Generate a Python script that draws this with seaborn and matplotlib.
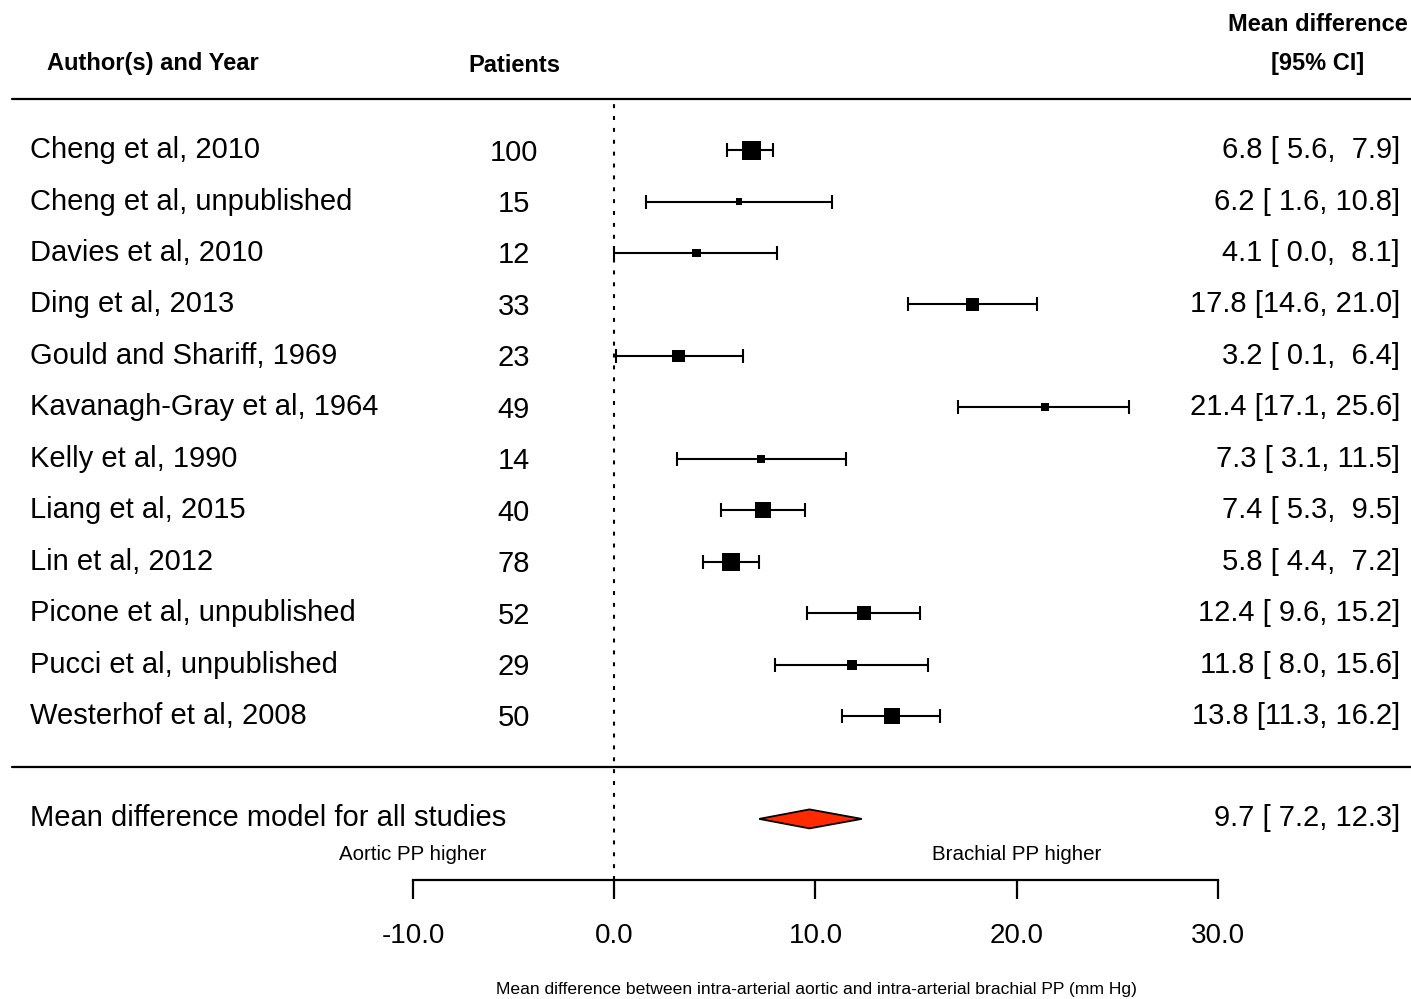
import numpy as np
import pandas as pd
import matplotlib
matplotlib.use("Agg")
import matplotlib.pyplot as plt
import matplotlib.transforms as mtransforms
import seaborn as sns

# ---------------- data ----------------
studies = ["Cheng et al, 2010", "Cheng et al, unpublished", "Davies et al, 2010",
           "Ding et al, 2013", "Gould and Shariff, 1969", "Kavanagh-Gray et al, 1964",
           "Kelly et al, 1990", "Liang et al, 2015", "Lin et al, 2012",
           "Picone et al, unpublished", "Pucci et al, unpublished", "Westerhof et al, 2008"]
patients = [100, 15, 12, 33, 23, 49, 14, 40, 78, 52, 29, 50]
estimates = [6.8, 6.2, 4.1, 17.8, 3.2, 21.4, 7.3, 7.4, 5.8, 12.4, 11.8, 13.8]
ci_lower = [5.6, 1.6, 0.0, 14.6, 0.1, 17.1, 3.1, 5.3, 4.4, 9.6, 8.0, 11.3]
ci_upper = [7.9, 10.8, 8.1, 21.0, 6.4, 25.6, 11.5, 9.5, 7.2, 15.2, 15.6, 16.2]
weights = [9.32, 7.42, 7.80, 8.35, 8.37, 7.63, 7.65, 8.94, 9.16, 8.58, 7.97, 8.81]  # study weights (%)
summary_label = "Mean difference model for all studies"
summary_est, summary_lo, summary_hi = 9.7, 7.2, 12.3
xticks = [-10, 0, 10, 20, 30]
left_note = "Aortic PP higher"
right_note = "Brachial PP higher"
xlabel = "Mean difference between intra-arterial aortic and intra-arterial brachial PP (mm Hg)"

# ---------------- style ----------------
sns.set_style("white")
plt.rcParams["font.family"] = ["Liberation Sans", "DejaVu Sans"]
plt.rcParams["text.color"] = "black"
plt.rcParams["axes.labelcolor"] = "black"
plt.rcParams["xtick.color"] = "black"

W, H = 1411, 999
fig = plt.figure(figsize=(W / 100, H / 100), dpi=100)
ax = fig.add_axes([0, 0, 1, 1])

ppu = 805 / 40.0            # pixels per x unit
row_h = 51.45               # pixels per row
ax.set_xlim(-10 - 413 / ppu, 30 + (W - 1218) / ppu)
ax.set_ylim(1 - (H - 716) / row_h, 1 + 716 / row_h)

k = len(studies)
df = pd.DataFrame({"study": studies, "n": patients, "est": estimates,
                   "lo": ci_lower, "hi": ci_upper, "w": weights})
df["row"] = np.arange(k, 0, -1)
summary_row = -1
axis_row = -2.19

# point sizes (metafor style: 0.5 .. 1.5 scaled by weight)
w = df["w"].to_numpy()
psize = (w - w.min()) / (w.max() - w.min()) + 0.5
side_pt = psize * (19 / 1.5) * 0.72
df["area"] = side_pt ** 2

# reference line at 0
ax.vlines(0, axis_row, 13, colors="black", linewidth=1.5,
          linestyles=(0, (1.9, 3.8)), zorder=1)

# confidence intervals
ax.errorbar(df["est"], df["row"], xerr=[df["est"] - df["lo"], df["hi"] - df["est"]],
            fmt="none", ecolor="black", elinewidth=1.5, capsize=4.8, capthick=1.5, zorder=2)

# squares
sns.scatterplot(data=df, x="est", y="row", s=df["area"].to_numpy(), marker="s",
                color="black", linewidth=0, legend=False, ax=ax, zorder=3)

# summary diamond
dh = 9.5 / row_h
ax.fill([summary_lo, summary_est, summary_hi, summary_est],
        [summary_row, summary_row + dh, summary_row, summary_row - dh],
        facecolor="#FF2A00", edgecolor="black", linewidth=1.3, zorder=3)

# horizontal separators
ax.axhline(13, xmin=12 / W, xmax=1, color="black", linewidth=1.6)
ax.axhline(0, xmin=12 / W, xmax=1, color="black", linewidth=1.6)

# x axis
for s in ["left", "right", "top"]:
    ax.spines[s].set_visible(False)
ax.spines["bottom"].set_position(("data", axis_row))
ax.spines["bottom"].set_bounds(xticks[0], xticks[-1])
ax.spines["bottom"].set_linewidth(1.6)
ax.spines["bottom"].set_color("black")
ax.set_xticks(xticks)
ax.set_xticklabels([f"{v:.1f}" for v in xticks])
ax.set_yticks([])
ax.tick_params(axis="x", direction="out", length=14, width=1.6, pad=17,
               labelsize=20, colors="black", bottom=True)
ax.set_xlabel(xlabel, fontsize=12.6, color="black")
ax.xaxis.set_label_coords(816 / W, 1 - 982 / H)
ax.set_ylabel("")

# ---------------- text columns ----------------
blend = mtransforms.blended_transform_factory(ax.transAxes, ax.transData)
def shifted(dy_px):
    return blend + mtransforms.ScaledTranslation(0, -dy_px / 100, fig.dpi_scale_trans)

fs = 21
for _, r in df.iterrows():
    ax.text(30 / W, r["row"], r["study"], transform=shifted(8), ha="left",
            va="baseline", fontsize=fs)
    ax.text(514 / W, r["row"], f"{int(r['n'])}", transform=shifted(10.5), ha="center",
            va="baseline", fontsize=fs)
    ax.text(1400 / W, r["row"], f"{r['est']:.1f} [{r['lo']:4.1f}, {r['hi']:4.1f}]",
            transform=shifted(8), ha="right", va="baseline", fontsize=fs)

ax.text(30 / W, summary_row, summary_label, transform=shifted(7), ha="left",
        va="baseline", fontsize=fs)
ax.text(1400 / W, summary_row, f"{summary_est:.1f} [{summary_lo:4.1f}, {summary_hi:4.1f}]",
        transform=shifted(7), ha="right", va="baseline", fontsize=fs)

# headers
hfs = 17
fig.text(47 / W, 1 - 70 / H, "Author(s) and Year", ha="left", va="baseline",
         fontsize=hfs, fontweight="bold")
fig.text(514 / W, 1 - 72 / H, "Patients", ha="center", va="baseline",
         fontsize=hfs, fontweight="bold")
fig.text(1318 / W, 1 - 31 / H, "Mean difference", ha="center", va="baseline",
         fontsize=hfs, fontweight="bold")
fig.text(1318 / W, 1 - 70 / H, "[95% CI]", ha="center", va="baseline",
         fontsize=hfs, fontweight="bold")

# direction notes
note_tr = mtransforms.blended_transform_factory(ax.transData, fig.transFigure)
ax.text(xticks[0], 1 - 860 / H, left_note, transform=note_tr, ha="center",
        va="baseline", fontsize=14.8)
ax.text(xticks[3], 1 - 860 / H, right_note, transform=note_tr, ha="center",
        va="baseline", fontsize=14.8)

fig.savefig("out.png", dpi=100, facecolor="white")
